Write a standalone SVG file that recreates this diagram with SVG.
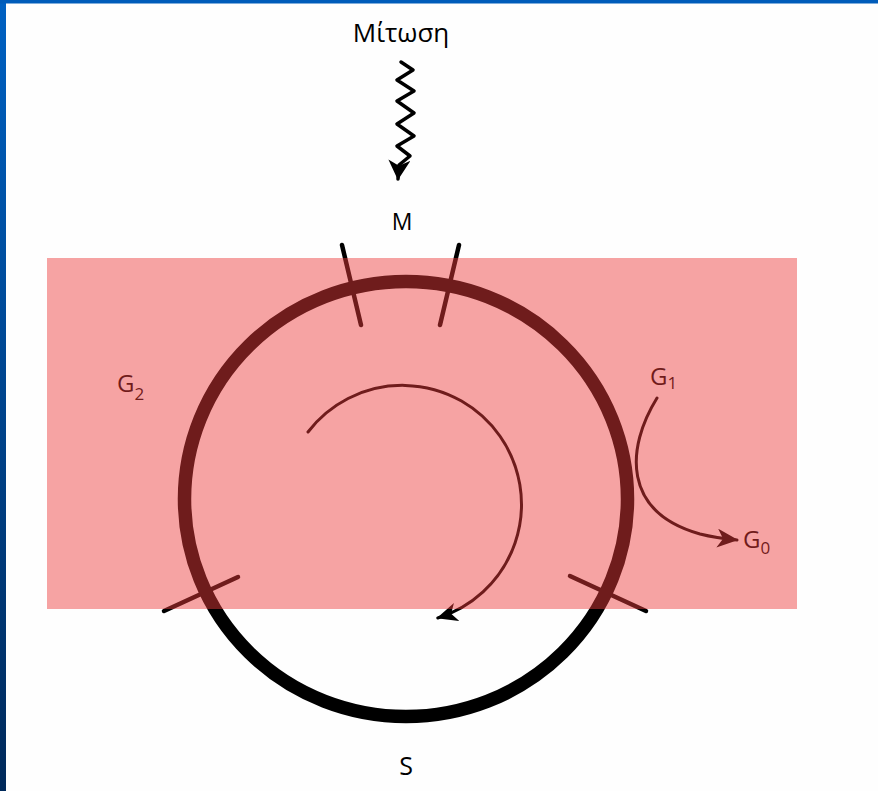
<svg xmlns="http://www.w3.org/2000/svg" width="878" height="791" viewBox="0 0 878 791">
  <defs>
    <linearGradient id="blue" x1="0" y1="0" x2="0" y2="1">
      <stop offset="0" stop-color="#0061C2"/>
      <stop offset="1" stop-color="#00295A"/>
    </linearGradient>
    <marker id="head" viewBox="0 0 18 18" refX="17" refY="9" markerWidth="21" markerHeight="19" markerUnits="userSpaceOnUse" orient="auto" preserveAspectRatio="none">
      <path d="M0,0 L18,9 L0,18 L5,9 z" fill="#000"/>
    </marker>
    <marker id="headBig" viewBox="0 0 18 18" refX="17" refY="9" markerWidth="20" markerHeight="22" markerUnits="userSpaceOnUse" orient="auto" preserveAspectRatio="none">
      <path d="M0,0 L18,9 L0,18 L5,9 z" fill="#000"/>
    </marker>
  </defs>
  <style>
    .lbl { font-family: "Open Sans", "Noto Sans", "DejaVu Sans", sans-serif; fill: #000; }
    .line { fill: none; stroke: #000; stroke-linecap: round; stroke-linejoin: round; }
  </style>

  <rect x="0" y="0" width="878" height="791" fill="#FEFEFE"/>
  <rect x="0" y="0" width="6" height="791" fill="url(#blue)"/>
  <rect x="0" y="0" width="878" height="3.5" fill="#005CBA"/>

  <g id="cycle">
    <ellipse cx="406" cy="499" rx="221.5" ry="217.5" class="line" stroke-width="13.5"/>
  </g>

  <g id="phase-ticks" class="line" stroke-width="4.5">
    <line x1="342" y1="245" x2="361" y2="325"/>
    <line x1="459" y1="245" x2="440" y2="325"/>
    <line x1="238" y1="577" x2="164" y2="611"/>
    <line x1="570" y1="576" x2="646" y2="611"/>
  </g>

  <g id="connectors">
    <polyline class="line" stroke-width="3.5" points="401,62 413,70 397,80 414,91 397,101 414,113 397,124 414,136 397,146 410,156 399,165 398,179" marker-end="url(#headBig)"/>
    <path class="line" stroke-width="3" d="M308,432 A119,119 0 1 1 437.8,618" marker-end="url(#head)"/>
    <path class="line" stroke-width="3" d="M657,398 C626,448 622,512 700,534 Q716,538 737,540" marker-end="url(#head)"/>
  </g>

  <g id="mitosis">
    <text class="lbl" x="401" y="42" font-size="26" text-anchor="middle" font-weight="500">Μίτωση</text>
  </g>
  <g id="M">
    <text class="lbl" x="402" y="230" font-size="23" text-anchor="middle" font-weight="500">M</text>
  </g>
  <g id="G2">
    <text class="lbl" x="117" y="392" font-size="24" font-weight="500">G<tspan font-size="17" dy="8">2</tspan></text>
  </g>
  <g id="G1">
    <text class="lbl" x="650" y="385" font-size="24" font-weight="500">G<tspan font-size="17" dy="4">1</tspan></text>
  </g>
  <g id="G0">
    <text class="lbl" x="743" y="548" font-size="24" font-weight="500">G<tspan font-size="17" dy="6">0</tspan></text>
  </g>
  <g id="S">
    <text class="lbl" x="406" y="775" font-size="25" text-anchor="middle" font-weight="500">S</text>
  </g>

  <rect id="overlay" x="47" y="258" width="750" height="351" fill="#ED3B3B" fill-opacity="0.465"/>
</svg>
